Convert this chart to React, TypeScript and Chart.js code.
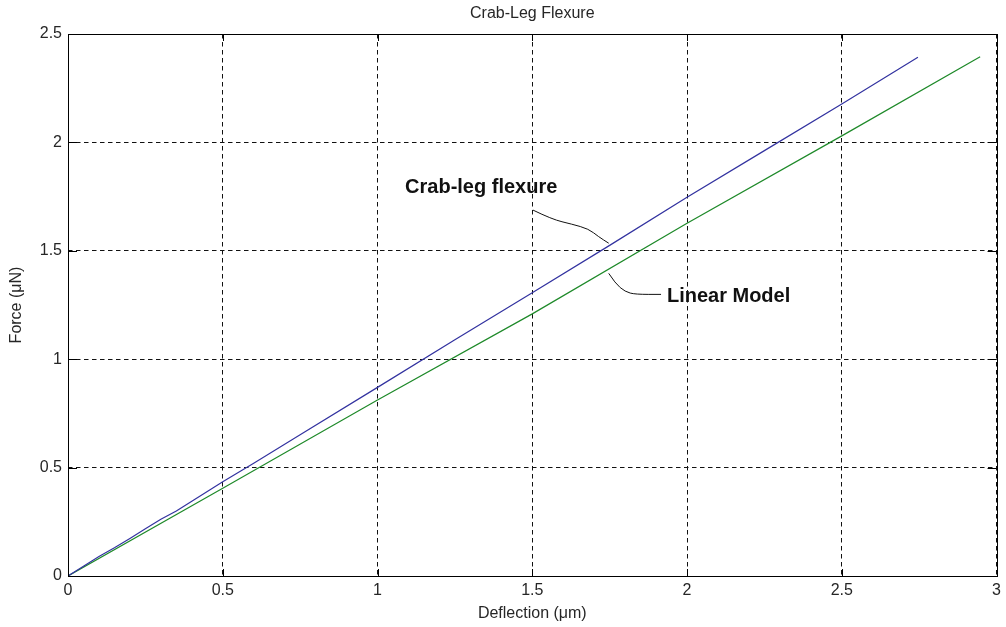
import React, { useEffect, useRef } from "react";
import { Chart, registerables } from "chart.js";

Chart.register(...registerables);

// ---- Data ----
const crabLegX = [0, 0.05, 0.1, 0.15, 0.2, 0.25, 0.3, 0.35, 0.4, 0.5, 0.6, 0.75, 1.0, 1.25, 1.5, 1.75, 2.0, 2.25, 2.5, 2.746];
const crabLegY = [0, 0.045, 0.09, 0.13, 0.173, 0.218, 0.262, 0.3, 0.345, 0.435, 0.52, 0.652, 0.87, 1.09, 1.307, 1.525, 1.747, 1.962, 2.177, 2.393];

const linearX = [0, 0.5, 1.0, 1.5, 2.0, 2.5, 2.947];
const linearY = [0, 0.405, 0.812, 1.209, 1.627, 2.03, 2.395];

const xTickValues = [0, 0.5, 1, 1.5, 2, 2.5, 3];
const xTickLabels = ["0", "0.5", "1", "1.5", "2", "2.5", "3"];
const yTickValues = [0, 0.5, 1, 1.5, 2, 2.5];
const yTickLabels = ["0", "0.5", "1", "1.5", "2", "2.5"];

const titleText = "Crab-Leg Flexure";
const xTitle = "Deflection (\u03bcm)";
const yTitle = "Force (\u03bcN)";

// annotation texts and pointer paths (data units)
const crabLabel = "Crab-leg flexure";
const crabLabelPos = [1.089, 1.79];
const crabPointerX = [1.502, 1.564, 1.628, 1.682, 1.714, 1.747];
const crabPointerY = [1.688, 1.645, 1.623, 1.601, 1.565, 1.535];

const linLabel = "Linear Model";
const linLabelPos = [1.935, 1.287];
const linPointerX = [1.747, 1.768, 1.8, 1.833, 1.916];
const linPointerY = [1.396, 1.35, 1.311, 1.299, 1.299];

const FONT = "'Liberation Sans', Arial, sans-serif";
const TEXT = "#262626";

function drawSmooth(ctx: CanvasRenderingContext2D, pts: number[][]) {
  ctx.beginPath();
  ctx.moveTo(pts[0][0], pts[0][1]);
  for (let i = 1; i < pts.length - 1; i++) {
    const mx = (pts[i][0] + pts[i + 1][0]) / 2;
    const my = (pts[i][1] + pts[i + 1][1]) / 2;
    ctx.quadraticCurveTo(pts[i][0], pts[i][1], mx, my);
  }
  const last = pts[pts.length - 1];
  ctx.lineTo(last[0], last[1]);
  ctx.stroke();
}

const overlayPlugin = {
  id: "overlay",
  afterDatasetsDraw(chart: any) {
    const { ctx, chartArea, scales } = chart;
    const xs = scales.x;
    const ys = scales.y;
    const { left, right, top, bottom } = chartArea;
    ctx.save();
    // inner ticks
    ctx.strokeStyle = "#000";
    ctx.lineWidth = 1;
    ctx.setLineDash([]);
    const tl = 7;
    xTickValues.forEach((v) => {
      const px = Math.round(xs.getPixelForValue(v)) + 0.5;
      ctx.beginPath();
      ctx.moveTo(px, bottom);
      ctx.lineTo(px, bottom - tl);
      ctx.moveTo(px, top);
      ctx.lineTo(px, top + tl);
      ctx.stroke();
    });
    yTickValues.forEach((v) => {
      const py = Math.round(ys.getPixelForValue(v)) + 0.5;
      ctx.beginPath();
      ctx.moveTo(left, py);
      ctx.lineTo(left + 9, py);
      ctx.moveTo(right, py);
      ctx.lineTo(right - 9, py);
      ctx.stroke();
    });
    // frame
    ctx.strokeRect(Math.round(left) + 0.5, Math.round(top) + 0.5, Math.round(right - left), Math.round(bottom - top));

    // pointers
    ctx.strokeStyle = "#111";
    ctx.lineWidth = 1;
    drawSmooth(ctx, crabPointerX.map((v, i) => [xs.getPixelForValue(v), ys.getPixelForValue(crabPointerY[i])]));
    drawSmooth(ctx, linPointerX.map((v, i) => [xs.getPixelForValue(v), ys.getPixelForValue(linPointerY[i])]));

    // annotation labels
    ctx.fillStyle = "#111";
    ctx.font = `bold 20px ${FONT}`;
    ctx.textAlign = "left";
    ctx.textBaseline = "middle";
    ctx.fillText(crabLabel, xs.getPixelForValue(crabLabelPos[0]), ys.getPixelForValue(crabLabelPos[1]));
    ctx.fillText(linLabel, xs.getPixelForValue(linLabelPos[0]), ys.getPixelForValue(linLabelPos[1]));

    // title
    ctx.fillStyle = TEXT;
    ctx.font = `16px ${FONT}`;
    ctx.textAlign = "center";
    ctx.textBaseline = "middle";
    ctx.fillText(titleText, (left + right) / 2, 14);
    ctx.restore();
  },
};

export default function App() {
  const canvasRef = useRef<HTMLCanvasElement | null>(null);

  useEffect(() => {
    if (!canvasRef.current) return;
    const chart = new Chart(canvasRef.current, {
      type: "line",
      data: {
        datasets: [
          {
            label: "Crab-leg flexure",
            data: crabLegX.map((x, i) => ({ x, y: crabLegY[i] })),
            borderColor: "#3333a0",
            borderWidth: 1.2,
            pointRadius: 0,
            tension: 0,
            fill: false,
          },
          {
            label: "Linear Model",
            data: linearX.map((x, i) => ({ x, y: linearY[i] })),
            borderColor: "#1f8a2a",
            borderWidth: 1.2,
            pointRadius: 0,
            tension: 0,
            fill: false,
          },
        ],
      },
      options: {
        animation: false,
        responsive: true,
        maintainAspectRatio: false,
        layout: { padding: { top: 34, right: 7, left: 0, bottom: 0 } },
        plugins: {
          legend: { display: false },
          tooltip: { enabled: false },
          title: { display: false },
        },
        scales: {
          x: {
            type: "linear",
            min: 0,
            max: 3,
            afterBuildTicks: (scale: any) => {
              scale.ticks = xTickValues.map((v) => ({ value: v }));
            },
            afterFit: (scale: any) => {
              scale.height = 51;
            },
            ticks: {
              color: TEXT,
              font: { family: FONT, size: 16 },
              padding: 5,
              maxRotation: 0,
              autoSkip: false,
              callback: (v: any) => {
                const i = xTickValues.indexOf(Number(v));
                return i >= 0 ? xTickLabels[i] : "";
              },
            },
            grid: {
              color: "#111",
              lineWidth: 1,
              drawTicks: false,
              tickLength: 0,
            },
            border: { display: false, dash: [4.5, 3.5] },
            title: {
              display: true,
              text: xTitle,
              color: TEXT,
              font: { family: FONT, size: 16 },
              padding: { top: 0, bottom: 4 },
            },
          },
          y: {
            type: "linear",
            min: 0,
            max: 2.5,
            afterBuildTicks: (scale: any) => {
              scale.ticks = yTickValues.map((v) => ({ value: v }));
            },
            afterFit: (scale: any) => {
              scale.width = 68;
            },
            ticks: {
              color: TEXT,
              font: { family: FONT, size: 16 },
              padding: 6,
              autoSkip: false,
              callback: (v: any) => {
                const i = yTickValues.indexOf(Number(v));
                return i >= 0 ? yTickLabels[i] : "";
              },
            },
            grid: {
              color: "#111",
              lineWidth: 1,
              drawTicks: false,
              tickLength: 0,
            },
            border: { display: false, dash: [4.5, 3.5] },
            title: {
              display: true,
              text: yTitle,
              color: TEXT,
              font: { family: FONT, size: 16 },
              padding: { top: 7, bottom: 0 },
            },
          },
        },
      },
      plugins: [overlayPlugin],
    });
    return () => chart.destroy();
  }, []);

  return (
    <div style={{ position: "absolute", left: 0, top: 0, width: 1006, height: 627, background: "#fff" }}>
      <canvas ref={canvasRef} />
    </div>
  );
}
